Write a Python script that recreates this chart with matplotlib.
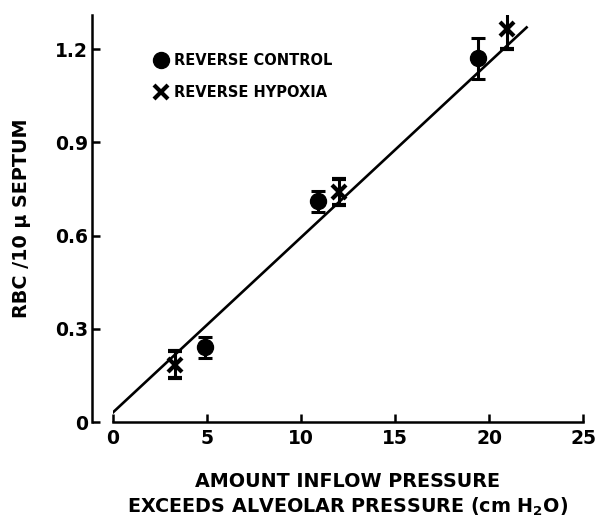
import numpy as np
import matplotlib
matplotlib.use("Agg")
import matplotlib.pyplot as plt

# Reverse control (circles)
ctrl_x = [4.9, 10.9, 19.4]
ctrl_y = [0.24, 0.71, 1.17]
ctrl_err = [0.034, 0.034, 0.066]

# Reverse hypoxia (crosses)
hyp_x = [3.3, 12.0, 20.95]
hyp_y = [0.185, 0.74, 1.265]
hyp_err = [0.043, 0.043, 0.063]

# Fitted line
fit_x = [0, 22]
fit_y = [0.031, 1.27]

xticks = [0, 5, 10, 15, 20, 25]
yticks = [0, 0.3, 0.6, 0.9, 1.2]

plt.rcParams['font.family'] = 'DejaVu Sans'
plt.rcParams['font.weight'] = 'bold'

fig = plt.figure(figsize=(5.96, 5.21), dpi=100)
ax = fig.add_axes([113 / 596, 1 - 422 / 521, 470 / 596, 407 / 521])

ax.plot(fit_x, fit_y, color='black', lw=1.9)

ax.errorbar(ctrl_x, ctrl_y, yerr=ctrl_err, fmt='o', color='black', ms=11.5,
            elinewidth=2.2, capsize=5, capthick=2.2, label='REVERSE CONTROL')
ax.errorbar(hyp_x, hyp_y, yerr=hyp_err, fmt='x', color='black', ms=10, mew=3,
            elinewidth=2.2, capsize=5, capthick=2.2, label='REVERSE HYPOXIA')

ax.set_xlim(0, 25)
ax.set_ylim(0, 1.31)
ax.set_xticks(xticks)
ax.set_xticklabels([str(t) for t in xticks])
ax.set_yticks(yticks)
ax.set_yticklabels(['0', '0.3', '0.6', '0.9', '1.2'])

for s in ['top', 'right']:
    ax.spines[s].set_visible(False)
ax.spines['left'].set_position(('outward', 15))
ax.spines['left'].set_linewidth(1.8)
ax.spines['bottom'].set_linewidth(1.8)
ax.spines['left'].set_bounds(0, 1.31)
ax.spines['bottom'].set_bounds(0, 25)

ax.tick_params(axis='both', direction='in', length=6, width=1.8, labelsize=13.5)
ax.tick_params(axis='x', pad=5)
ax.tick_params(axis='y', pad=3)

ax.set_xlabel('AMOUNT INFLOW PRESSURE\nEXCEEDS ALVEOLAR PRESSURE (cm H$_\\mathbf{2}$O)',
              fontsize=13.8, fontweight='bold', labelpad=17, linespacing=1.3)
ax.set_ylabel('RBC /10 μ SEPTUM', fontsize=13.8, fontweight='bold', labelpad=17)

handles, labels = ax.get_legend_handles_labels()
handles = [h[0] for h in handles]
ax.legend(handles, labels, loc='upper left', bbox_to_anchor=(0.056, 0.938),
          frameon=False, handletextpad=0.3, handlelength=1.2,
          labelspacing=1.15, prop={'weight': 'bold', 'size': 10.5})

fig.savefig('out.png', dpi=100)
